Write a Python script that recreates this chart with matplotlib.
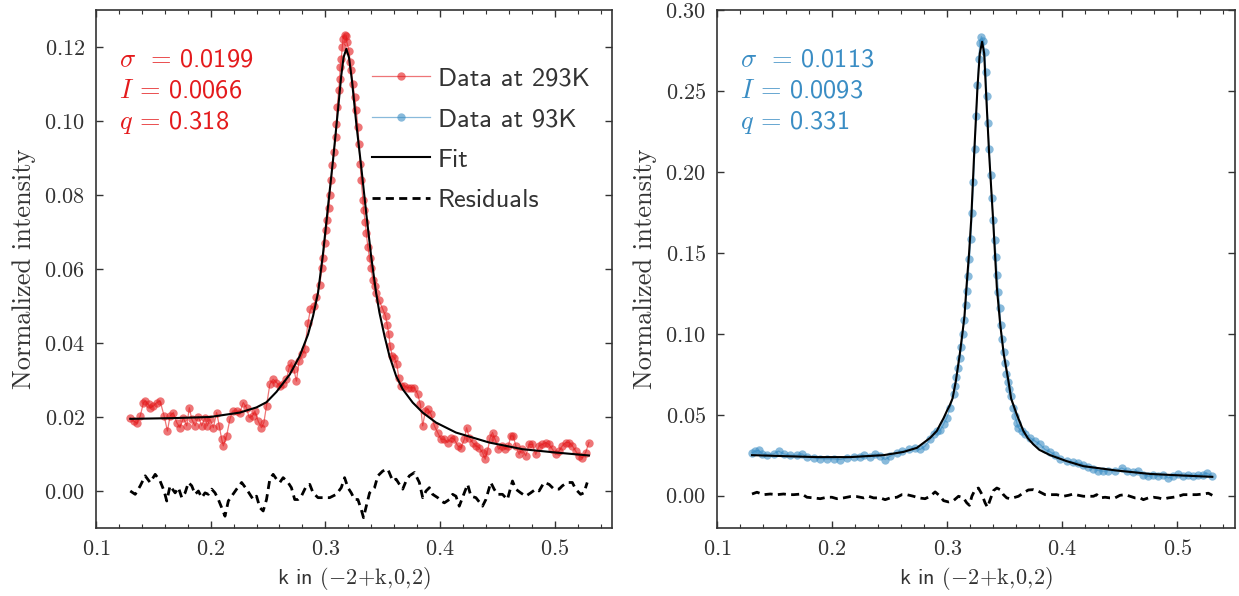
import numpy as np
import matplotlib
matplotlib.use("Agg")
import matplotlib.pyplot as plt
from matplotlib.ticker import MultipleLocator

# ---- 293K scan ----
k_293 = [0.1299, 0.1328, 0.1357, 0.1386, 0.1414, 0.1429, 0.1458, 0.1472, 0.1501, 0.1530,
         0.1559, 0.1594, 0.1623, 0.1646, 0.1675, 0.1704, 0.1733, 0.1762, 0.1791, 0.1814,
         0.1835, 0.1864, 0.1893, 0.1922, 0.1951, 0.1971, 0.1994, 0.2023, 0.2052, 0.2075,
         0.2096, 0.2110, 0.2139, 0.2168, 0.2191, 0.2226, 0.2255, 0.2284, 0.2313, 0.2336,
         0.2365, 0.2386, 0.2414, 0.2443, 0.2464, 0.2487, 0.2516, 0.2545, 0.2574, 0.2603,
         0.2632, 0.2661, 0.2684, 0.2704, 0.2725, 0.2748, 0.2771, 0.2800, 0.2820, 0.2849,
         0.2870, 0.2899, 0.2922, 0.2951, 0.2971, 0.2980, 0.2994, 0.3009, 0.3017, 0.3032,
         0.3038, 0.3052, 0.3061, 0.3075, 0.3090, 0.3096, 0.3104, 0.3116, 0.3125, 0.3130,
         0.3139, 0.3148, 0.3154, 0.3168, 0.3183, 0.3188, 0.3206, 0.3217, 0.3226, 0.3241,
         0.3255, 0.3270, 0.3284, 0.3293, 0.3304, 0.3313, 0.3328, 0.3333, 0.3348, 0.3357,
         0.3371, 0.3386, 0.3400, 0.3414, 0.3429, 0.3443, 0.3467, 0.3501, 0.3525, 0.3539,
         0.3554, 0.3565, 0.3583, 0.3603, 0.3623, 0.3641, 0.3661, 0.3690, 0.3719, 0.3748,
         0.3777, 0.3806, 0.3829, 0.3849, 0.3872, 0.3893, 0.3922, 0.3951, 0.3980, 0.4009,
         0.4038, 0.4067, 0.4096, 0.4125, 0.4154, 0.4183, 0.4212, 0.4232, 0.4255, 0.4284,
         0.4313, 0.4342, 0.4371, 0.4394, 0.4414, 0.4438, 0.4458, 0.4481, 0.4510, 0.4539,
         0.4568, 0.4597, 0.4617, 0.4638, 0.4661, 0.4690, 0.4713, 0.4748, 0.4777, 0.4806,
         0.4835, 0.4864, 0.4893, 0.4922, 0.4951, 0.4980, 0.5009, 0.5038, 0.5067, 0.5096,
         0.5125, 0.5154, 0.5183, 0.5212, 0.5241, 0.5270, 0.5299]
int_293 = [0.0198, 0.0189, 0.0183, 0.0203, 0.0239, 0.0243, 0.0234, 0.0225, 0.0230, 0.0239,
           0.0243, 0.0203, 0.0162, 0.0203, 0.0212, 0.0185, 0.0171, 0.0198, 0.0176, 0.0225,
           0.0194, 0.0176, 0.0201, 0.0176, 0.0198, 0.0176, 0.0194, 0.0171, 0.0212, 0.0176,
           0.0140, 0.0122, 0.0149, 0.0194, 0.0216, 0.0216, 0.0212, 0.0239, 0.0225, 0.0198,
           0.0203, 0.0216, 0.0189, 0.0171, 0.0185, 0.0230, 0.0288, 0.0302, 0.0293, 0.0284,
           0.0288, 0.0302, 0.0333, 0.0347, 0.0329, 0.0297, 0.0351, 0.0369, 0.0383, 0.0455,
           0.0491, 0.0500, 0.0525, 0.0557, 0.0602, 0.0629, 0.0669, 0.0705, 0.0732, 0.0764,
           0.0800, 0.0840, 0.0880, 0.0916, 0.0957, 0.0993, 0.1038, 0.1083, 0.1114, 0.1146,
           0.1168, 0.1200, 0.1222, 0.1233, 0.1231, 0.1213, 0.1190, 0.1159, 0.1137, 0.1101,
           0.1065, 0.1029, 0.0984, 0.0939, 0.0885, 0.0840, 0.0786, 0.0759, 0.0728, 0.0696,
           0.0660, 0.0629, 0.0602, 0.0571, 0.0553, 0.0535, 0.0517, 0.0491, 0.0473, 0.0450,
           0.0423, 0.0392, 0.0365, 0.0360, 0.0342, 0.0306, 0.0284, 0.0284, 0.0279, 0.0279,
           0.0279, 0.0261, 0.0234, 0.0176, 0.0216, 0.0221, 0.0207, 0.0176, 0.0158, 0.0140,
           0.0140, 0.0131, 0.0144, 0.0140, 0.0122, 0.0117, 0.0140, 0.0171, 0.0144, 0.0131,
           0.0122, 0.0117, 0.0104, 0.0086, 0.0108, 0.0144, 0.0158, 0.0140, 0.0113, 0.0122,
           0.0113, 0.0122, 0.0149, 0.0149, 0.0122, 0.0099, 0.0113, 0.0095, 0.0126, 0.0126,
           0.0099, 0.0122, 0.0126, 0.0131, 0.0126, 0.0113, 0.0099, 0.0108, 0.0122, 0.0131,
           0.0131, 0.0122, 0.0108, 0.0095, 0.0090, 0.0104, 0.0131]

kfit_293 = [0.1299, 0.1675, 0.1994, 0.2255, 0.2400, 0.2487, 0.2574, 0.2690, 0.2777, 0.2849,
            0.2893, 0.2936, 0.2980, 0.3023, 0.3067, 0.3110, 0.3139, 0.3159, 0.3183, 0.3206,
            0.3232, 0.3270, 0.3313, 0.3357, 0.3400, 0.3443, 0.3472, 0.3516, 0.3559, 0.3617,
            0.3675, 0.3762, 0.3849, 0.3965, 0.4139, 0.4429, 0.4719, 0.5009, 0.5299]
fit_293 = [0.0195, 0.0197, 0.0200, 0.0212, 0.0226, 0.0240, 0.0268, 0.0315, 0.0365, 0.0423,
           0.0473, 0.0535, 0.0642, 0.0768, 0.0894, 0.1029, 0.1123, 0.1172, 0.1195, 0.1172,
           0.1110, 0.0993, 0.0876, 0.0750, 0.0633, 0.0535, 0.0482, 0.0419, 0.0365, 0.0311,
           0.0275, 0.0239, 0.0212, 0.0185, 0.0158, 0.0131, 0.0113, 0.0104, 0.0096]

kres_293 = [0.1299, 0.1342, 0.1386, 0.1429, 0.1472, 0.1516, 0.1559, 0.1594, 0.1617, 0.1646,
            0.1690, 0.1719, 0.1748, 0.1777, 0.1806, 0.1835, 0.1864, 0.1893, 0.1922, 0.1951,
            0.1980, 0.2009, 0.2038, 0.2067, 0.2096, 0.2125, 0.2154, 0.2183, 0.2226, 0.2270,
            0.2313, 0.2342, 0.2371, 0.2400, 0.2429, 0.2458, 0.2487, 0.2516, 0.2545, 0.2574,
            0.2603, 0.2632, 0.2675, 0.2704, 0.2733, 0.2762, 0.2791, 0.2835, 0.2864, 0.2893,
            0.2936, 0.2980, 0.3038, 0.3096, 0.3139, 0.3168, 0.3197, 0.3226, 0.3255, 0.3284,
            0.3313, 0.3333, 0.3357, 0.3386, 0.3429, 0.3458, 0.3501, 0.3545, 0.3588, 0.3617,
            0.3646, 0.3675, 0.3704, 0.3733, 0.3777, 0.3820, 0.3849, 0.3878, 0.3907, 0.3936,
            0.3980, 0.4009, 0.4038, 0.4081, 0.4110, 0.4139, 0.4168, 0.4212, 0.4241, 0.4270,
            0.4313, 0.4371, 0.4400, 0.4443, 0.4472, 0.4501, 0.4545, 0.4588, 0.4632, 0.4661,
            0.4704, 0.4748, 0.4791, 0.4835, 0.4864, 0.4907, 0.4951, 0.4994, 0.5038, 0.5067,
            0.5110, 0.5154, 0.5183, 0.5226, 0.5255, 0.5284]
res_293 = [0.0000, -0.0009, 0.0014, 0.0041, 0.0023, 0.0045, 0.0027, 0.0000, -0.0027, 0.0014,
           -0.0005, 0.0009, -0.0018, -0.0005, 0.0023, 0.0014, -0.0009, 0.0000, -0.0018, -0.0005,
           -0.0009, 0.0005, -0.0005, -0.0023, -0.0045, -0.0068, -0.0027, -0.0014, 0.0005, 0.0023,
           0.0005, -0.0009, -0.0023, -0.0014, -0.0045, -0.0054, -0.0023, 0.0032, 0.0045, 0.0032,
           0.0023, 0.0036, 0.0023, 0.0009, -0.0023, -0.0023, -0.0014, 0.0014, 0.0018, -0.0005,
           -0.0018, -0.0018, -0.0018, -0.0009, 0.0009, 0.0036, 0.0009, -0.0005, -0.0023, -0.0023,
           -0.0050, -0.0072, -0.0041, -0.0005, 0.0009, 0.0041, 0.0054, 0.0059, 0.0027, 0.0032,
           0.0018, 0.0005, 0.0027, 0.0041, 0.0050, 0.0023, -0.0018, 0.0000, 0.0009, -0.0009,
           -0.0018, -0.0027, -0.0032, -0.0023, -0.0009, -0.0014, -0.0041, -0.0005, 0.0018, -0.0014,
           -0.0018, -0.0041, -0.0023, 0.0023, 0.0005, -0.0009, -0.0009, -0.0023, 0.0027, 0.0005,
           -0.0005, -0.0014, -0.0005, 0.0005, 0.0000, 0.0023, 0.0018, 0.0005, 0.0005, 0.0014,
           0.0023, 0.0023, 0.0005, -0.0009, -0.0005, 0.0023]

# ---- 93K scan ----
k_93 = [0.1304, 0.1333, 0.1362, 0.1391, 0.1434, 0.1492, 0.1535, 0.1579, 0.1637, 0.1694,
        0.1738, 0.1781, 0.1839, 0.1897, 0.1955, 0.2013, 0.2071, 0.2128, 0.2186, 0.2244,
        0.2273, 0.2331, 0.2374, 0.2418, 0.2461, 0.2505, 0.2563, 0.2606, 0.2664, 0.2722,
        0.2765, 0.2808, 0.2852, 0.2881, 0.2910, 0.2939, 0.2968, 0.2997, 0.3025, 0.3057,
        0.3069, 0.3080, 0.3095, 0.3109, 0.3124, 0.3135, 0.3147, 0.3159, 0.3170, 0.3182,
        0.3193, 0.3205, 0.3216, 0.3228, 0.3240, 0.3251, 0.3263, 0.3274, 0.3283, 0.3297,
        0.3312, 0.3326, 0.3335, 0.3344, 0.3352, 0.3364, 0.3376, 0.3387, 0.3399, 0.3413,
        0.3425, 0.3433, 0.3445, 0.3457, 0.3465, 0.3477, 0.3491, 0.3503, 0.3514, 0.3526,
        0.3538, 0.3552, 0.3575, 0.3590, 0.3604, 0.3619, 0.3648, 0.3677, 0.3720, 0.3763,
        0.3807, 0.3850, 0.3894, 0.3937, 0.3980, 0.4038, 0.4096, 0.4140, 0.4183, 0.4226,
        0.4270, 0.4313, 0.4356, 0.4400, 0.4458, 0.4516, 0.4559, 0.4617, 0.4660, 0.4704,
        0.4747, 0.4791, 0.4834, 0.4877, 0.4921, 0.4964, 0.5008, 0.5051, 0.5094, 0.5138,
        0.5181, 0.5225, 0.5253, 0.5303]
int_93 = [0.0264, 0.0275, 0.0279, 0.0260, 0.0254, 0.0258, 0.0275, 0.0258, 0.0250, 0.0250,
          0.0258, 0.0238, 0.0233, 0.0229, 0.0227, 0.0227, 0.0223, 0.0233, 0.0238, 0.0238,
          0.0250, 0.0238, 0.0258, 0.0244, 0.0223, 0.0244, 0.0264, 0.0275, 0.0285, 0.0295,
          0.0285, 0.0306, 0.0347, 0.0382, 0.0399, 0.0403, 0.0440, 0.0481, 0.0543, 0.0626,
          0.0677, 0.0733, 0.0791, 0.0849, 0.0919, 0.0998, 0.1084, 0.1175, 0.1266, 0.1357,
          0.1460, 0.1586, 0.1749, 0.1939, 0.2144, 0.2346, 0.2536, 0.2695, 0.2794, 0.2835,
          0.2810, 0.2740, 0.2618, 0.2468, 0.2302, 0.2139, 0.1983, 0.1836, 0.1701, 0.1582,
          0.1472, 0.1365, 0.1260, 0.1159, 0.1057, 0.0967, 0.0886, 0.0818, 0.0753, 0.0702,
          0.0657, 0.0615, 0.0543, 0.0492, 0.0450, 0.0419, 0.0399, 0.0378, 0.0357, 0.0337,
          0.0316, 0.0285, 0.0271, 0.0250, 0.0229, 0.0213, 0.0207, 0.0202, 0.0192, 0.0176,
          0.0167, 0.0155, 0.0151, 0.0155, 0.0151, 0.0171, 0.0155, 0.0147, 0.0151, 0.0130,
          0.0120, 0.0130, 0.0120, 0.0130, 0.0109, 0.0120, 0.0134, 0.0120, 0.0130, 0.0124,
          0.0130, 0.0130, 0.0140, 0.0120]

kfit_93 = [0.1304, 0.1579, 0.1868, 0.2157, 0.2447, 0.2620, 0.2736, 0.2852, 0.2910, 0.2939,
           0.2968, 0.2997, 0.3020, 0.3046, 0.3075, 0.3109, 0.3135, 0.3150, 0.3167, 0.3190,
           0.3208, 0.3234, 0.3263, 0.3283, 0.3303, 0.3321, 0.3335, 0.3364, 0.3399, 0.3431,
           0.3460, 0.3491, 0.3532, 0.3555, 0.3604, 0.3662, 0.3700, 0.3749, 0.3800, 0.3894,
           0.4038, 0.4183, 0.4472, 0.4762, 0.5051, 0.5303]
fit_93 = [0.0250, 0.0244, 0.0238, 0.0238, 0.0250, 0.0270, 0.0295, 0.0357, 0.0400, 0.0440,
          0.0478, 0.0523, 0.0555, 0.0600, 0.0708, 0.0874, 0.1020, 0.1110, 0.1286, 0.1500,
          0.1700, 0.2111, 0.2525, 0.2732, 0.2804, 0.2732, 0.2525, 0.2111, 0.1700, 0.1286,
          0.1060, 0.0874, 0.0708, 0.0600, 0.0502, 0.0399, 0.0355, 0.0316, 0.0283, 0.0250,
          0.0213, 0.0182, 0.0155, 0.0134, 0.0124, 0.0116]

kres_93 = [0.1304, 0.1347, 0.1405, 0.1463, 0.1521, 0.1579, 0.1622, 0.1666, 0.1738, 0.1781,
           0.1839, 0.1897, 0.1955, 0.1998, 0.2042, 0.2100, 0.2157, 0.2215, 0.2273, 0.2317,
           0.2360, 0.2418, 0.2461, 0.2505, 0.2563, 0.2606, 0.2649, 0.2707, 0.2751, 0.2808,
           0.2852, 0.2895, 0.2939, 0.2968, 0.3011, 0.3054, 0.3098, 0.3141, 0.3170, 0.3193,
           0.3214, 0.3242, 0.3271, 0.3300, 0.3329, 0.3350, 0.3373, 0.3402, 0.3431, 0.3460,
           0.3488, 0.3517, 0.3546, 0.3590, 0.3619, 0.3662, 0.3705, 0.3749, 0.3792, 0.3850,
           0.3894, 0.3951, 0.4009, 0.4053, 0.4096, 0.4140, 0.4183, 0.4226, 0.4270, 0.4299,
           0.4328, 0.4371, 0.4414, 0.4458, 0.4501, 0.4544, 0.4588, 0.4631, 0.4675, 0.4704,
           0.4747, 0.4791, 0.4834, 0.4877, 0.4921, 0.4964, 0.5008, 0.5051, 0.5109, 0.5167,
           0.5225, 0.5268, 0.5303]
res_93 = [0.0010, 0.0021, 0.0006, 0.0010, 0.0006, 0.0010, 0.0006, 0.0006, 0.0010, -0.0010,
          -0.0014, -0.0019, -0.0010, -0.0010, -0.0019, -0.0014, -0.0006, -0.0006, -0.0014, -0.0004,
          -0.0014, -0.0014, -0.0025, -0.0014, -0.0010, 0.0006, 0.0006, -0.0004, -0.0014, -0.0019,
          -0.0004, 0.0023, -0.0004, -0.0031, -0.0039, -0.0031, -0.0004, -0.0014, -0.0045, -0.0060,
          -0.0004, 0.0037, 0.0047, 0.0010, -0.0045, -0.0072, -0.0025, 0.0031, 0.0047, 0.0037,
          0.0006, -0.0014, -0.0019, -0.0010, -0.0004, 0.0017, 0.0035, 0.0037, 0.0027, 0.0006,
          0.0006, 0.0006, -0.0004, 0.0002, 0.0010, 0.0002, -0.0004, -0.0004, -0.0004, 0.0006,
          -0.0014, -0.0010, -0.0014, -0.0014, 0.0002, 0.0006, -0.0004, -0.0014, -0.0014, -0.0025,
          -0.0014, -0.0010, -0.0014, -0.0021, -0.0014, -0.0010, -0.0004, 0.0006, 0.0006, 0.0006,
          0.0010, 0.0015, 0.0002]

params_293 = ["0.0199", "0.0066", "0.318"]
params_93 = ["0.0113", "0.0093", "0.331"]

red = "#e41a1c"
blue = "#3a8dc4"
ink = "#333333"

plt.rcParams["font.family"] = "cmr10"
plt.rcParams["mathtext.fontset"] = "cm"
plt.rcParams["axes.formatter.use_mathtext"] = True
plt.rcParams["axes.unicode_minus"] = False
plt.rcParams["axes.linewidth"] = 1.2
plt.rcParams["axes.edgecolor"] = ink
for a in ("xtick", "ytick"):
    plt.rcParams[a + ".direction"] = "in"
    plt.rcParams[a + ".labelsize"] = 16
    plt.rcParams[a + ".color"] = ink
    plt.rcParams[a + ".labelcolor"] = ink
    plt.rcParams[a + ".major.size"] = 5
    plt.rcParams[a + ".minor.size"] = 3
    plt.rcParams[a + ".major.width"] = 1.0
    plt.rcParams[a + ".minor.width"] = 0.8
    plt.rcParams[a + ".major.pad"] = 8
plt.rcParams["xtick.top"] = True
plt.rcParams["ytick.right"] = True

fig = plt.figure(figsize=(12.39, 5.96), dpi=100)
W, H = 1239.0, 596.0
ax1 = fig.add_axes([96 / W, 68 / H, 516 / W, 518 / H])
ax2 = fig.add_axes([717 / W, 68 / H, 518 / W, 518 / H])

sans = {"family": "cmss10", "size": 19}


def panel(ax, k, y, kf, yf, kr, yr, col, label, params):
    ax.plot(k, y, "-o", color=col, lw=0.9, ms=6, mew=0, alpha=0.6, label=label, zorder=2)
    ax.plot(kf, yf, "-", color="k", lw=1.5, label="Fit", zorder=3)
    ax.plot(kr, yr, color="k", lw=2.0, ls=(0, (2.9, 1.9)), label="Residuals", zorder=3)
    names = [r"\sigma\ \,=\,", r"I\,=\,", r"q\,=\,"]
    for i, (n, v) in enumerate(zip(names, params)):
        ax.text(0.045, 0.903 - i * 0.060, r"$%s$%s" % (n, v), fontfamily="cmss10",
                transform=ax.transAxes, color=col, fontsize=19, va="center", ha="left")
    ax.set_xlim(0.1, 0.55)
    ax.xaxis.set_major_locator(MultipleLocator(0.1))
    ax.xaxis.set_minor_locator(MultipleLocator(0.02))
    ax.set_xlabel(r"k in $(-2\!+\!\mathrm{k},\!0,\!2)$", fontfamily="cmss10",
                  fontsize=16, color=ink)
    ax.set_ylabel("Normalized intensity", fontsize=19, color=ink, labelpad=6)


panel(ax1, k_293, int_293, kfit_293, fit_293, kres_293, res_293, red, "Data at 293K", params_293)
ax1.set_ylim(-0.01, 0.13)
ax1.yaxis.set_major_locator(MultipleLocator(0.02))

panel(ax2, k_93, int_93, kfit_93, fit_93, kres_93, res_93, blue, "Data at 93K", params_93)
ax2.set_ylim(-0.02, 0.30)
ax2.yaxis.set_major_locator(MultipleLocator(0.05))

# shared legend lives in the left panel
h1, l1 = ax1.get_legend_handles_labels()
h2, l2 = ax2.get_legend_handles_labels()
leg = ax1.legend([h1[0], h2[0], h1[1], h1[2]], [l1[0], l2[0], l1[1], l1[2]],
                 loc="upper left", bbox_to_anchor=(0.534, 0.89), frameon=False,
                 prop=sans, numpoints=1, handlelength=2.2, handletextpad=0.3,
                 labelspacing=0.65, borderpad=0, borderaxespad=0)
for t in leg.get_texts():
    t.set_color(ink)

fig.savefig("out.png", dpi=100)
